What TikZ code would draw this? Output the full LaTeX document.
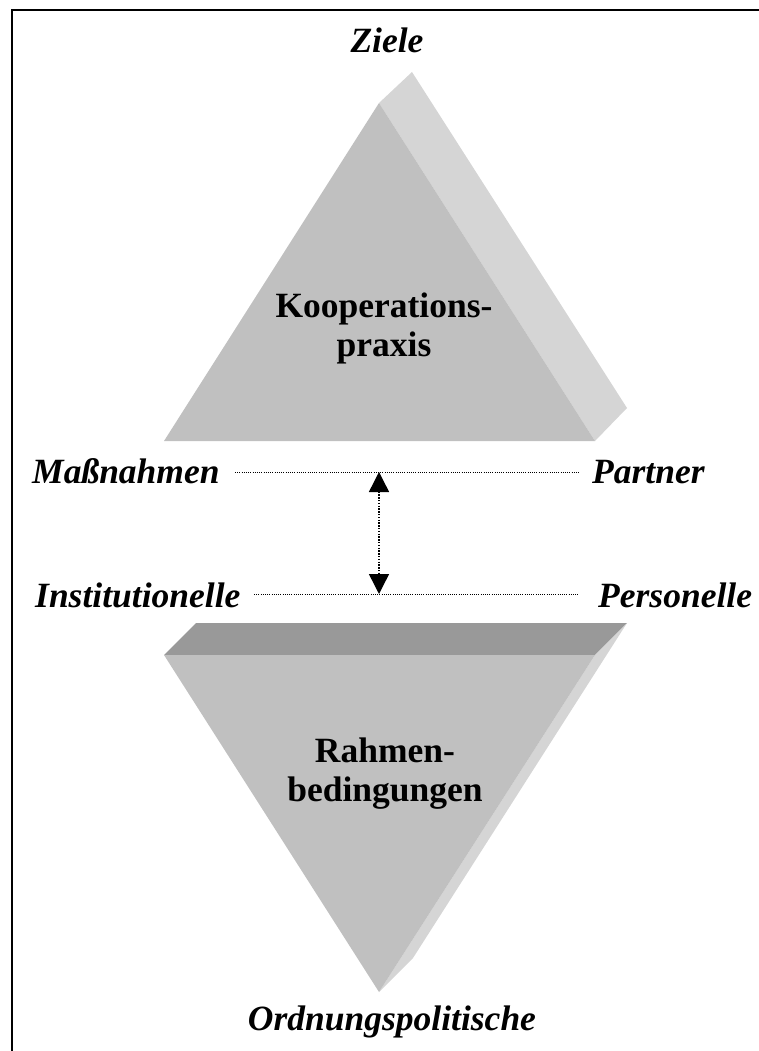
\documentclass[tikz,border=0pt]{standalone}
\usepackage{fontspec}
\setmainfont{Liberation Serif}
\usetikzlibrary{arrows.meta}
\definecolor{frontgray}{RGB}{192,192,192}
\definecolor{sidegray}{RGB}{213,213,213}
\definecolor{topgray}{RGB}{153,153,153}
\tikzset{
  lbl/.style={font=\fontsize{35.5}{39}\selectfont\bfseries\itshape, inner sep=0pt, anchor=base west},
  title/.style={font=\fontsize{35.5}{39}\selectfont\bfseries, inner sep=0pt, anchor=base},
  dotline/.style={line width=1pt, dash pattern=on 1pt off 1.2pt},
  frameline/.style={line width=2pt},
}
\begin{document}
\begin{tikzpicture}[x=1pt,y=-1pt]
\useasboundingbox (0,0) rectangle (759,1051);
% frame (only top and left visible)
\draw[frameline] (12,1051) -- (12,10) -- (759,10);

% upper triangle: side face and front face
\fill[sidegray] (379,103) -- (412,72) -- (627,408) -- (595,441) -- cycle;
\fill[frontgray] (164,441) -- (595,441) -- (379,103) -- cycle;

% lower triangle: top face, side face, front face
\fill[topgray] (164,655) -- (196,623) -- (627,623) -- (595,655) -- cycle;
\fill[sidegray] (595,655) -- (627,623) -- (413,958) -- (379,992) -- cycle;
\fill[frontgray] (164,655) -- (595,655) -- (379,992) -- cycle;

% titles
\node[title] (kp1) at (384,317) {Kooperations-};
\node[title] (kp2) at (384,356) {praxis};
\node[title] (rb1) at (385,762) {Rahmen-};
\node[title] (rb2) at (385,801) {bedingungen};

% labels
\node[lbl, anchor=base] (ziele) at (387,53) {Ziele};
\node[lbl] (mass) at (32,483) {Maßnahmen};
\node[lbl] (partner) at (592,483) {Partner};
\node[lbl] (inst) at (35,607) {Institutionelle};
\node[lbl] (pers) at (598,607) {Personelle};
\node[lbl, anchor=base] (ord) at (392,1030) {Ordnungspolitische};

% dotted lines
\coordinate (l1a) at (235,472);
\coordinate (l1b) at (579,472);
\coordinate (l2a) at (254,594);
\coordinate (l2b) at (579,594);
\coordinate (atop) at (379,472);
\coordinate (abot) at (379,594);
\draw[dotline] (l1a) -- (l1b);
\draw[dotline] (l2a) -- (l2b);
\draw[line width=1.4pt, dash pattern=on 1.4pt off 1.4pt,
  {Triangle[width=20pt,length=20pt]}-{Triangle[width=20pt,length=20pt]}] (atop) -- (abot);
\end{tikzpicture}
\end{document}
